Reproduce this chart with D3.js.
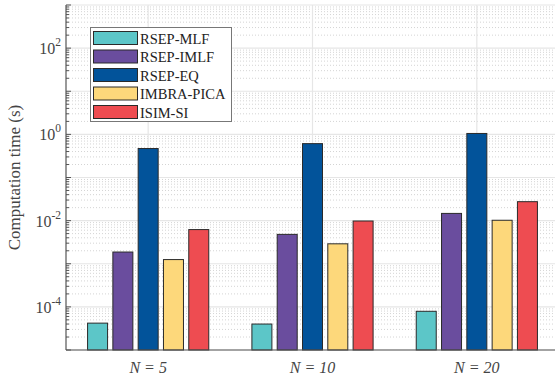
<!DOCTYPE html>
<html>
<head>
<meta charset="utf-8">
<script src="https://cdn.jsdelivr.net/npm/d3@7"></script>
<style>
  body { margin: 0; background: #fff; }
  svg { display: block; overflow: hidden; }
</style>
</head>
<body>
<div id="chart"></div>
<script>
// data
const groups = ['N = 5', 'N = 10', 'N = 20'];
const methods = ['RSEP-MLF', 'RSEP-IMLF', 'RSEP-EQ', 'IMBRA-PICA', 'ISIM-SI'];
const colors = ['#5cc6c8', '#6a4d9e', '#02539a', '#fdd87b', '#ee4c51'];
const rsepMlf = [4.2e-5, 4.0e-5, 7.9e-5];
const rsepImlf = [1.87e-3, 4.8e-3, 1.47e-2];
const rsepEq = [0.47, 0.61, 1.05];
const imbraPica = [1.25e-3, 2.9e-3, 1.02e-2];
const isimSi = [6.2e-3, 9.8e-3, 2.75e-2];
const yTicks = [-4, -2, 0, 2];

const series = [rsepMlf, rsepImlf, rsepEq, imbraPica, isimSi];

const w = 555;
const h = 380;
const padLeft = 66, padTop = 5, axisY = 350;
const serif = "'Times New Roman', 'Liberation Serif', Times, 'DejaVu Serif', serif";

const svg = d3.select('#chart')
              .append('svg')
              .attr('width', w)
              .attr('height', h)
              .attr('font-family', serif)
              .style('font-family', serif);

const y = d3.scaleLog().domain([1e-5, 1e3]).range([axisY, padTop]);
const x = d3.scaleLinear().domain([0.5, 3.5]).range([padLeft, 559]);

// minor grid
const minor = [];
for (let e = -5; e < 3; e++) {
    for (let m = 2; m <= 9; m++) minor.push(m * Math.pow(10, e));
}
svg.append('g')
   .selectAll('line')
   .data(minor)
   .enter()
   .append('line')
   .attr('x1', padLeft).attr('x2', w)
   .attr('y1', d => y(d)).attr('y2', d => y(d))
   .attr('stroke', '#d4d4d4')
   .attr('stroke-width', 1)
   .attr('stroke-dasharray', '1,2');

// major grid
const majors = d3.range(-5, 4).map(e => Math.pow(10, e));
svg.append('g')
   .selectAll('line')
   .data(majors)
   .enter()
   .append('line')
   .attr('x1', padLeft).attr('x2', w)
   .attr('y1', d => y(d)).attr('y2', d => y(d))
   .attr('stroke', '#e6e6e6')
   .attr('stroke-width', 1.2);

svg.append('g')
   .selectAll('line')
   .data([1, 2, 3])
   .enter()
   .append('line')
   .attr('x1', d => x(d)).attr('x2', d => x(d))
   .attr('y1', padTop).attr('y2', axisY)
   .attr('stroke', '#e6e6e6')
   .attr('stroke-width', 1.2);

// bars
const barW = 20;
const step = 25.3;
series.forEach((vals, s) => {
    svg.append('g')
       .selectAll('rect')
       .data(vals)
       .enter()
       .append('rect')
       .attr('x', (d, i) => x(i + 1) + (s - 2) * step - barW / 2)
       .attr('y', d => y(d))
       .attr('width', barW)
       .attr('height', d => axisY - y(d))
       .attr('fill', colors[s])
       .attr('stroke', '#2a2a2a')
       .attr('stroke-width', 1);
});

// axes
svg.append('line')
   .attr('x1', padLeft).attr('x2', padLeft)
   .attr('y1', padTop).attr('y2', axisY)
   .attr('stroke', '#555').attr('stroke-width', 1.2);
svg.append('line')
   .attr('x1', padLeft).attr('x2', w)
   .attr('y1', axisY).attr('y2', axisY)
   .attr('stroke', '#555').attr('stroke-width', 1.2);

svg.append('g')
   .selectAll('line')
   .data(minor)
   .enter()
   .append('line')
   .attr('x1', padLeft).attr('x2', padLeft + 3)
   .attr('y1', d => y(d)).attr('y2', d => y(d))
   .attr('stroke', '#555');
svg.append('g')
   .selectAll('line')
   .data(majors)
   .enter()
   .append('line')
   .attr('x1', padLeft).attr('x2', padLeft + 5)
   .attr('y1', d => y(d)).attr('y2', d => y(d))
   .attr('stroke', '#555');

// y tick labels
const yl = svg.append('g')
   .selectAll('text')
   .data(yTicks)
   .enter()
   .append('text')
   .attr('x', 61)
   .attr('y', d => y(Math.pow(10, d)) + 6)
   .attr('text-anchor', 'end')
   .attr('fill', '#444')
   .style('font-size', '16px');
yl.append('tspan').text('10');
yl.append('tspan')
  .attr('dy', -8)
  .style('font-size', '11.5px')
  .text(d => d);

// x tick labels
svg.append('g')
   .selectAll('text')
   .data(groups)
   .enter()
   .append('text')
   .attr('x', (d, i) => x(i + 1))
   .attr('y', 373)
   .attr('text-anchor', 'middle')
   .attr('fill', '#444')
   .style('font-size', '16px')
   .style('font-style', 'italic')
   .text(d => d);

// y label
svg.append('text')
   .attr('transform', 'translate(20,' + ((padTop + axisY) / 2) + ') rotate(-90)')
   .attr('text-anchor', 'middle')
   .attr('fill', '#444')
   .style('font-size', '17px')
   .text('Computation time (s)');

// legend
const lg = svg.append('g');
lg.append('rect')
  .attr('x', 90.5).attr('y', 27.5)
  .attr('width', 141).attr('height', 94)
  .attr('fill', '#fff')
  .attr('stroke', '#777')
  .attr('stroke-width', 1);
methods.forEach((m, i) => {
    lg.append('rect')
      .attr('x', 93.5).attr('y', 31.5 + i * 18.5)
      .attr('width', 44).attr('height', 13)
      .attr('fill', colors[i])
      .attr('stroke', '#2a2a2a');
    lg.append('text')
      .attr('x', 140).attr('y', 43.5 + i * 18.5)
      .attr('fill', '#222')
      .style('font-size', '14.5px')
      .text(m);
});
</script>
</body>
</html>
